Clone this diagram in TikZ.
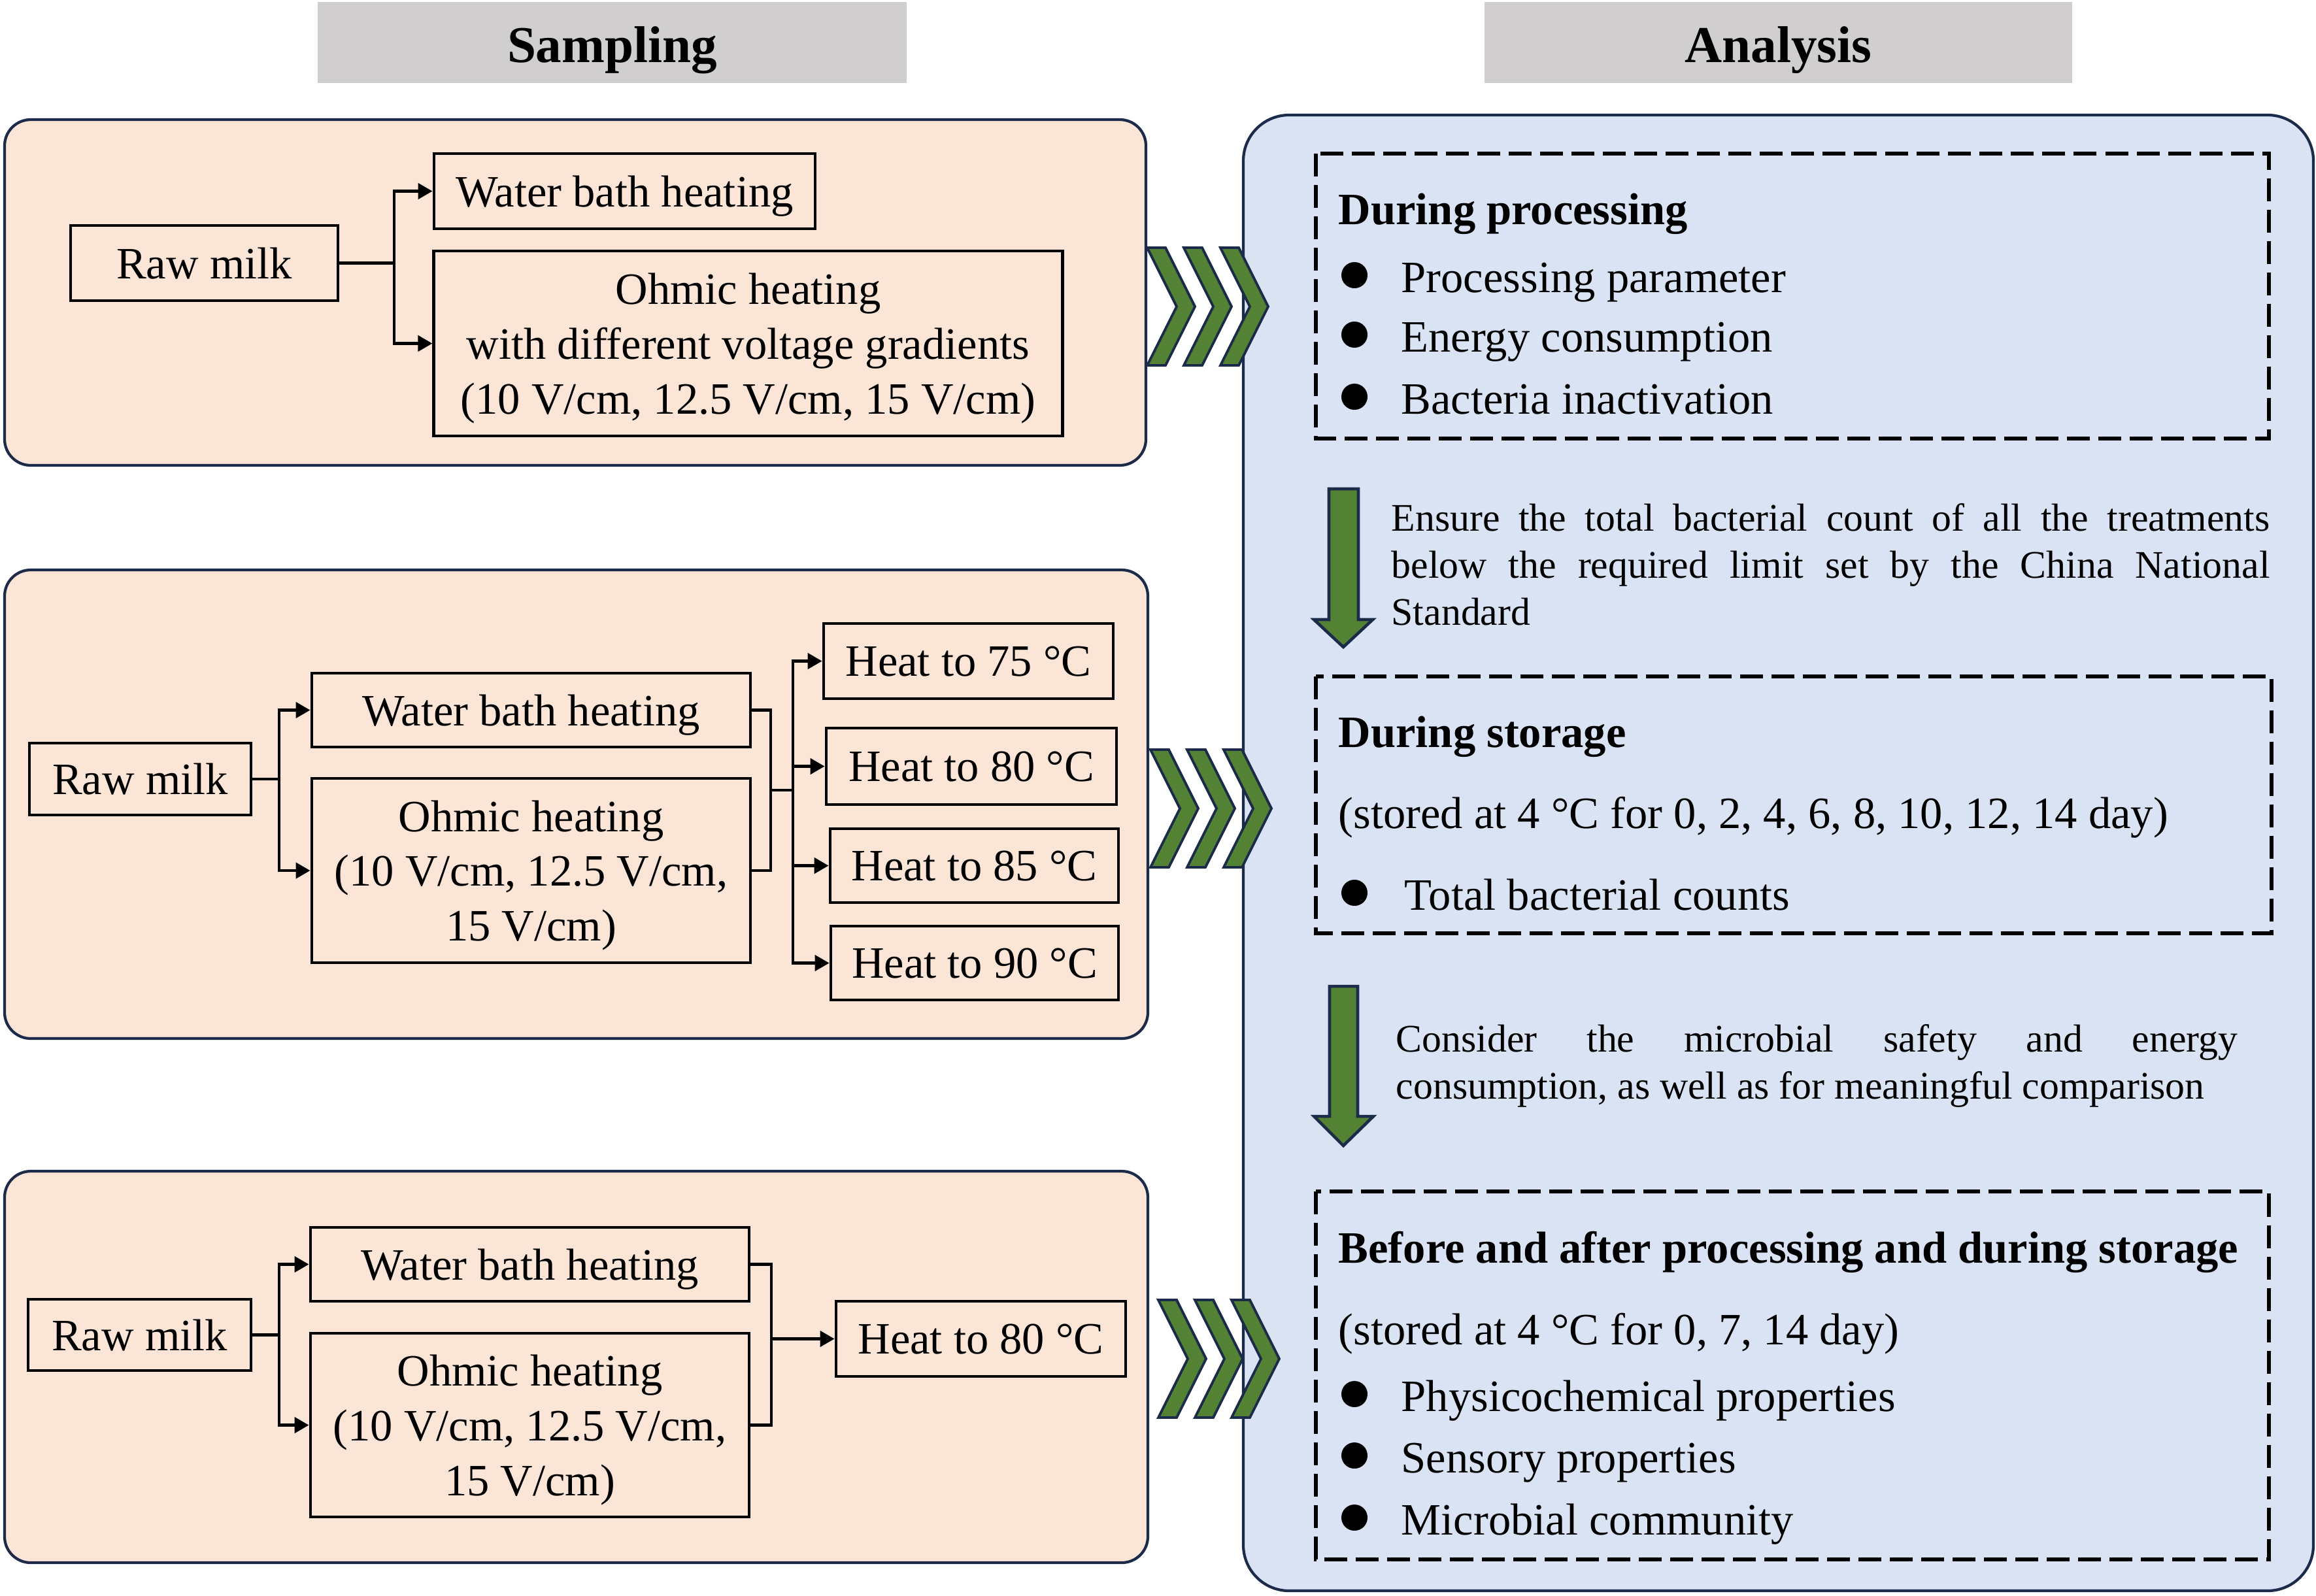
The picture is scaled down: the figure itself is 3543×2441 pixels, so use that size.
\documentclass[tikz,border=0pt]{standalone}
\usepackage{fontspec}
\setmainfont{Liberation Serif}
\usetikzlibrary{arrows.meta}
\definecolor{peach}{HTML}{FBE5D6}
\definecolor{anblue}{HTML}{DAE3F3}
\definecolor{navy}{HTML}{1C2B4A}
\definecolor{leaf}{HTML}{548235}
\definecolor{hdgray}{HTML}{D0CECE}
\newcommand\mainsz{\fontsize{19.5}{23.8}\selectfont}
\newcommand\txtsz{\fontsize{17}{20.4}\selectfont}
\newcommand\hdsz{\fontsize{22.5}{27}\selectfont}
\newcommand\nd[1]{\raisebox{0pt}[\height][0pt]{#1}}
\begin{document}
\begin{tikzpicture}[x=0.01cm, y=-0.01cm,
  panel/.style={draw=navy, line width=1.2pt, fill=peach, rounded corners=0.4cm},
  pbox/.style={draw=black, line width=1.3pt, font=\mainsz, align=center, inner sep=0pt},
  conn/.style={line width=1.3pt, black},
  arr/.style={conn, -{Triangle[length=0.22cm, width=0.24cm]}},
  dbox/.style={draw=black, line width=1.7pt, dash pattern=on 0.35cm off 0.13cm},
  chev/.style={fill=leaf, draw=navy, line width=1.1pt, line join=miter},
  garrow/.style={fill=leaf, draw=navy, line width=1.3pt, line join=miter},
  lbl/.style={font=\mainsz, inner sep=0pt, anchor=base west},
  para/.style={font=\txtsz, inner sep=0pt, anchor=north west, align=justify},
]
\useasboundingbox (0,0) rectangle (3543,2441);
\fill[white] (0,0) rectangle (3543,2441);

% headers
\fill[hdgray] (486,3) rectangle (1387,127);
\node[font=\hdsz\bfseries, anchor=base, inner sep=0pt] (hsamp) at (936.5,95) {Sampling};
\fill[hdgray] (2271,3) rectangle (3170,127);
\node[font=\hdsz\bfseries, anchor=base, inner sep=0pt] (hanal) at (2720.5,95) {Analysis};

% panels
\draw[panel] (7,183) rectangle (1753,712);
\draw[panel] (7,872) rectangle (1756,1589);
\draw[panel] (7,1792) rectangle (1756,2391);
\draw[draw=navy, line width=1.2pt, fill=anblue, rounded corners=0.7cm] (1902,176) rectangle (3539,2434);

% chevrons
\foreach \cy/\cx in {469/1755, 1237/1760, 2079/1772} {
  \foreach \i in {0,1,2} {
    \draw[chev, shift={(\cx+56*\i,\cy)}] (0,-90) -- (28,-90) -- (73,0) -- (28,90) -- (0,90) -- (45,0) -- cycle;
  }
}

% ---------- panel 1
\node[pbox, minimum width=4.09cm, minimum height=1.15cm] (rm1) at (312.5,402.5) {\nd{Raw milk}};
\node[pbox, minimum width=5.83cm, minimum height=1.15cm] (wb1) at (955.5,292.5) {\nd{Water bath heating}};
\node[pbox, minimum width=9.61cm, minimum height=2.83cm] (oh1) at (1144.5,525.5) {Ohmic heating\\with different voltage gradients\\\nd{(10 V/cm, 12.5 V/cm, 15 V/cm)}};
\coordinate (j1) at (603,402.5);
\draw[conn] (rm1.east) -- (j1);
\draw[arr] (j1) |- (wb1.west);
\draw[arr] (j1) |- (oh1.west);

% ---------- panel 2
\node[pbox, minimum width=3.39cm, minimum height=1.10cm] (rm2) at (214.5,1192) {\nd{Raw milk}};
\node[pbox, minimum width=6.71cm, minimum height=1.13cm] (wb2) at (812.5,1086.5) {\nd{Water bath heating}};
\node[pbox, minimum width=6.71cm, minimum height=2.82cm] (oh2) at (812.5,1332) {Ohmic heating\\(10 V/cm, 12.5 V/cm,\\\nd{15 V/cm)}};
\coordinate (j2) at (427,1192);
\draw[conn] (rm2.east) -- (j2);
\draw[arr] (j2) |- (wb2.west);
\draw[arr] (j2) |- (oh2.west);
\node[pbox, minimum width=4.43cm, minimum height=1.15cm] (h75) at (1481.5,1011.5) {\nd{Heat to 75 °C}};
\node[pbox, minimum width=4.44cm, minimum height=1.17cm] (h80a) at (1486,1172.5) {\nd{Heat to 80 °C}};
\node[pbox, minimum width=4.41cm, minimum height=1.13cm] (h85) at (1490.5,1324.5) {\nd{Heat to 85 °C}};
\node[pbox, minimum width=4.40cm, minimum height=1.13cm] (h90) at (1491,1473.5) {\nd{Heat to 90 °C}};
\coordinate (b2) at (1179,1209);
\coordinate (v2) at (1213,1209);
\draw[conn] (wb2.east) -| (b2) |- (oh2.east);
\draw[conn] (b2) -- (v2);
\draw[arr] (v2) |- (h75.west);
\draw[arr] (v2) |- (h80a.west);
\draw[arr] (v2) |- (h85.west);
\draw[arr] (v2) |- (h90.west);

% ---------- panel 3
\node[pbox, minimum width=3.41cm, minimum height=1.09cm] (rm3) at (213.5,2042.5) {\nd{Raw milk}};
\node[pbox, minimum width=6.71cm, minimum height=1.13cm] (wb3) at (810.5,1934.5) {\nd{Water bath heating}};
\node[pbox, minimum width=6.71cm, minimum height=2.81cm] (oh3) at (810.5,2180.5) {Ohmic heating\\(10 V/cm, 12.5 V/cm,\\\nd{15 V/cm)}};
\coordinate (j3) at (427,2042.5);
\draw[conn] (rm3.east) -- (j3);
\draw[arr] (j3) |- (wb3.west);
\draw[arr] (j3) |- (oh3.west);
\node[pbox, minimum width=4.43cm, minimum height=1.15cm] (h80b) at (1500.5,2048.5) {\nd{Heat to 80 °C}};
\coordinate (b3) at (1180,2048.5);
\draw[conn] (wb3.east) -| (b3) |- (oh3.east);
\draw[arr] (b3) -- (h80b.west);

% ---------- analysis
\draw[dbox] (2013,235) rectangle (3471,671);
\draw[dbox] (2013,1035) rectangle (3475,1428);
\draw[dbox] (2013,1823) rectangle (3471,2386);

\node[lbl, font=\mainsz\bfseries] (dp) at (2047,343) {During processing};
\fill (2072,421) circle (0.2cm);
\node[lbl] (dp1) at (2143,447) {Processing parameter};
\fill (2072,512) circle (0.2cm);
\node[lbl] (dp2) at (2143,538) {Energy consumption};
\fill (2072,607) circle (0.2cm);
\node[lbl] (dp3) at (2143,633) {Bacteria inactivation};

\draw[garrow] (2033,748) -- (2078,748) -- (2078,948) -- (2100,948) -- (2055,990) -- (2010,948) -- (2033,948) -- cycle;
\node[para, text width=13.43cm] (n1) at (2128,770) {Ensure the total bacterial count of all the treatments\linebreak below the required limit set by the China National\linebreak Standard};

\node[lbl, font=\mainsz\bfseries] (ds) at (2047,1143) {During storage};
\node[lbl] (ds1) at (2047,1267) {(stored at 4 °C for 0, 2, 4, 6, 8, 10, 12, 14 day)};
\fill (2072,1366) circle (0.2cm);
\node[lbl] (ds2) at (2148,1392) {Total bacterial counts};

\draw[garrow] (2034,1509) -- (2077,1509) -- (2077,1708) -- (2101,1708) -- (2055,1753) -- (2010,1708) -- (2034,1708) -- cycle;
\node[para, text width=12.87cm] (n2) at (2135,1567) {Consider the microbial safety and energy\linebreak consumption, as well as for meaningful comparison};

\node[lbl, font=\mainsz\bfseries] (ba) at (2047,1932) {Before and after processing and during storage};
\node[lbl] (ba1) at (2047,2057) {(stored at 4 °C for 0, 7, 14 day)};
\fill (2072,2133) circle (0.2cm);
\node[lbl] (ba2) at (2143,2159) {Physicochemical properties};
\fill (2072,2227) circle (0.2cm);
\node[lbl] (ba3) at (2143,2253) {Sensory properties};
\fill (2072,2322) circle (0.2cm);
\node[lbl] (ba4) at (2143,2348) {Microbial community};
\end{tikzpicture}
\end{document}
